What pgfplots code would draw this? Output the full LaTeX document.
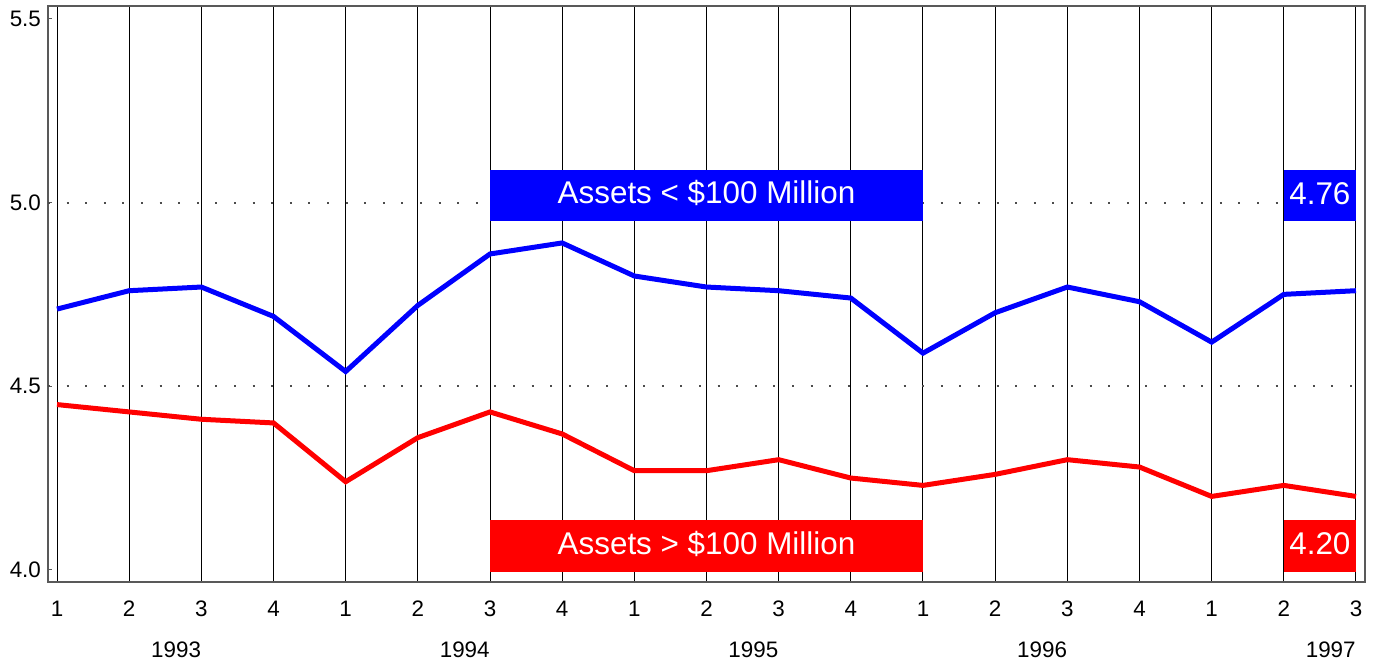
\documentclass[border=0pt]{standalone}
\usepackage{fontspec}
\setmainfont{Liberation Sans}
\usepackage{pgfplots}
\pgfplotsset{compat=1.18}

\pgfplotstableread{
q small large
0  4.71 4.45
1  4.76 4.43
2  4.77 4.41
3  4.69 4.40
4  4.54 4.24
5  4.72 4.36
6  4.86 4.43
7  4.89 4.37
8  4.80 4.27
9  4.77 4.27
10 4.76 4.30
11 4.74 4.25
12 4.59 4.23
13 4.70 4.26
14 4.77 4.30
15 4.73 4.28
16 4.62 4.20
17 4.75 4.23
18 4.76 4.20
}\rates

\begin{document}
\begin{tikzpicture}
\begin{axis}[
    scale only axis,
    width=658.5pt, height=288pt,
    xmin=-0.125, xmax=18.125,
    ymin=3.967, ymax=5.535,
    axis line style={gray!70!black, line width=0.6pt},
    xtick={0,...,18},
    xticklabels={1,2,3,4,1,2,3,4,1,2,3,4,1,2,3,4,1,2,3},
    xmajorgrids, major x grid style={black, line width=0.5pt},
    x tick style={draw=none},
    xticklabel style={yshift=-6pt},
    ytick={4.0,4.5,5.0,5.5},
    yticklabels={4.0,4.5,5.0,5.5},
    y tick style={gray!70!black, line width=0.5pt},
    tick align=inside, major tick length=2pt,
    tick label style={font=\fontsize{11.2}{13}\selectfont},
    ytick pos=left, xtick pos=bottom,
    clip=false,
    /pgf/number format/assume math mode=true,
]
\draw[gray!60!black, line width=1pt, dash pattern=on 1pt off 8.3pt] (axis cs:-0.125,5.0) -- (axis cs:18.125,5.0);
\draw[gray!60!black, line width=1pt, dash pattern=on 1pt off 8.3pt] (axis cs:-0.125,4.5) -- (axis cs:18.125,4.5);

\addplot[blue, line width=2.5pt, mark=none] table[x=q, y=small] {\rates};
\addplot[red, line width=2.5pt, mark=none] table[x=q, y=large] {\rates};

\fill[blue] (axis cs:6,4.951) rectangle (axis cs:12,5.0897);
\node[white, font=\fontsize{15.7}{18}\selectfont] at (axis cs:9,5.025) {Assets < \$100 Million};
\fill[blue] (axis cs:17,4.951) rectangle (axis cs:18,5.0897);
\node[white, font=\fontsize{15.7}{18}\selectfont] at (axis cs:17.5,5.025) {4.76};

\fill[red] (axis cs:6,3.995) rectangle (axis cs:12,4.136);
\node[white, font=\fontsize{15.7}{18}\selectfont] at (axis cs:9,4.07) {Assets > \$100 Million};
\fill[red] (axis cs:17,3.995) rectangle (axis cs:18,4.136);
\node[white, font=\fontsize{15.7}{18}\selectfont] at (axis cs:17.5,4.07) {4.20};

\node[font=\fontsize{11.2}{13}\selectfont, yshift=-34pt] at (axis cs:1.65,3.967) {1993};
\node[font=\fontsize{11.2}{13}\selectfont, yshift=-34pt] at (axis cs:5.65,3.967) {1994};
\node[font=\fontsize{11.2}{13}\selectfont, yshift=-34pt] at (axis cs:9.65,3.967) {1995};
\node[font=\fontsize{11.2}{13}\selectfont, yshift=-34pt] at (axis cs:13.65,3.967) {1996};
\node[font=\fontsize{11.2}{13}\selectfont, yshift=-34pt] at (axis cs:17.65,3.967) {1997};
\end{axis}
\pgfresetboundingbox
\path (-24pt,-39.5pt) rectangle (664.5pt,291pt);
\end{tikzpicture}
\end{document}
